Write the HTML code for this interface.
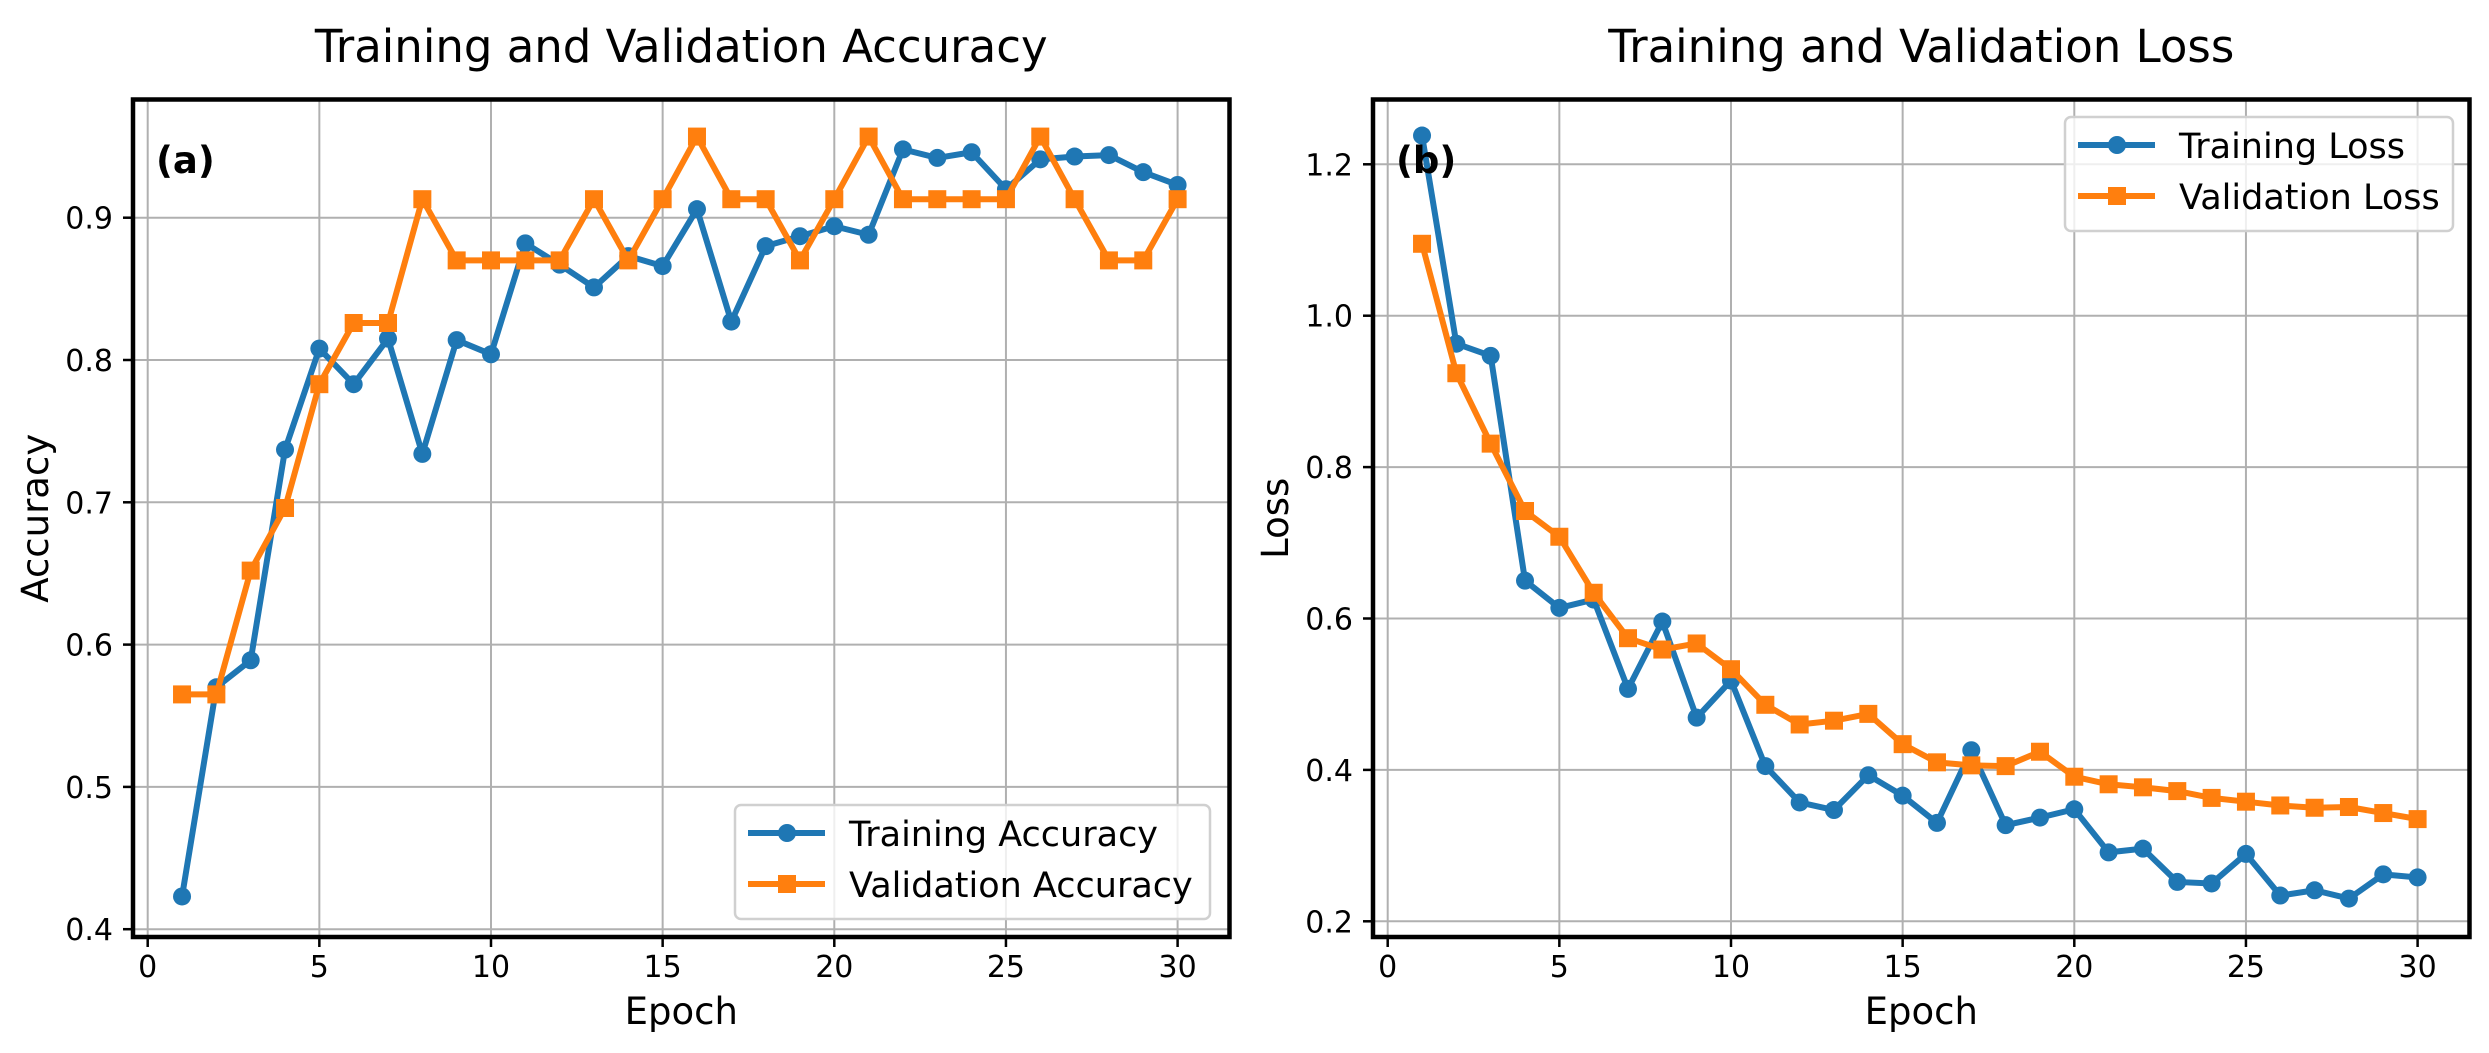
<!DOCTYPE html>
<html><head><meta charset="utf-8"><style>
html,body{margin:0;padding:0;background:#fff}
svg{display:block}
text{font-family:"DejaVu Sans","Liberation Sans",sans-serif}
</style></head><body>
<svg id="chart" width="2489" height="1053" viewBox="0 0 2489 1053" xmlns="http://www.w3.org/2000/svg"></svg>
<script>
const epochs=[1,2,3,4,5,6,7,8,9,10,11,12,13,14,15,16,17,18,19,20,21,22,23,24,25,26,27,28,29,30];
const trainAcc=[0.423,0.570,0.589,0.737,0.808,0.783,0.815,0.734,0.814,0.804,0.882,0.867,0.851,0.873,0.866,0.906,0.827,0.880,0.887,0.894,0.888,0.948,0.942,0.946,0.920,0.941,0.943,0.944,0.932,0.923];
const valAcc=[0.565,0.565,0.652,0.696,0.783,0.826,0.826,0.913,0.870,0.870,0.870,0.870,0.913,0.870,0.913,0.957,0.913,0.913,0.870,0.913,0.957,0.913,0.913,0.913,0.913,0.957,0.913,0.870,0.870,0.913];
const trainLoss=[1.238,0.963,0.947,0.650,0.614,0.625,0.507,0.596,0.469,0.518,0.405,0.357,0.347,0.393,0.366,0.330,0.426,0.327,0.337,0.348,0.291,0.296,0.252,0.250,0.289,0.234,0.241,0.230,0.262,0.258];
const valLoss=[1.095,0.924,0.831,0.742,0.708,0.634,0.574,0.559,0.567,0.533,0.486,0.460,0.465,0.474,0.434,0.410,0.406,0.405,0.424,0.391,0.381,0.377,0.372,0.363,0.358,0.353,0.350,0.351,0.343,0.335];
const xTicks=[0,5,10,15,20,25,30];
const accTicks=[0.4,0.5,0.6,0.7,0.8,0.9];
const lossTicks=[0.2,0.4,0.6,0.8,1.0,1.2];

const NS="http://www.w3.org/2000/svg";
const svg=document.getElementById('chart');
function el(tag,attrs,parent){const e=document.createElementNS(NS,tag);for(const k in attrs)e.setAttribute(k,attrs[k]);(parent||svg).appendChild(e);return e;}

function panel(cfg){
  const g=el('g',{});
  
  
  const L=cfg.ox+133,R=cfg.ox+1229.5,T=99.5,B=937;
  const x0=cfg.ox+147.7, xs=34.33;
  const X=v=>x0+v*xs;
  const Y=v=>cfg.yRef+(cfg.yRefVal-v)*cfg.ys;
  xTicks.forEach(t=>{const l=el('line',{x1:X(t),x2:X(t),y1:T,y2:B,stroke:'#b0b0b0','stroke-width':2},g);
    });
  cfg.yTicks.forEach(t=>{const l=el('line',{x1:L,x2:R,y1:Y(t),y2:Y(t),stroke:'#b0b0b0','stroke-width':2},g);
    });
  xTicks.forEach(t=>{
    el('line',{x1:X(t),x2:X(t),y1:B,y2:B+10,stroke:'#000','stroke-width':2.5},g);
    const tx=el('text',{x:X(t),y:977,'font-size':30,'text-anchor':'middle'},g);tx.textContent=t;
    
  });
  cfg.yTicks.forEach(t=>{
    el('line',{x1:L-10,x2:L,y1:Y(t),y2:Y(t),stroke:'#000','stroke-width':2.5},g);
    const tx=el('text',{x:L-20,y:Y(t)+11,'font-size':30,'text-anchor':'end'},g);tx.textContent=t.toFixed(1);
    
  });
  cfg.series.forEach(s=>{
    const sg=el('g',{},g);
    
    
    const pts=epochs.map((e,i)=>X(e)+','+Y(s.data[i])).join(' ');
    el('polyline',{points:pts,fill:'none',stroke:s.color,'stroke-width':6,'stroke-linejoin':'round'},sg);
    epochs.forEach((e,i)=>{
      let m;
      if(s.marker==='o') m=el('circle',{cx:X(e),cy:Y(s.data[i]),r:9,fill:s.color},sg);
      else m=el('rect',{x:X(e)-9,y:Y(s.data[i])-9,width:18,height:18,fill:s.color},sg);
      
      
    });
  });
  const fr=el('rect',{x:L,y:T,width:R-L,height:B-T,fill:'none',stroke:'#000','stroke-width':4.5},g);
  
  const ti=el('text',{x:(L+R)/2,y:62,'font-size':45,'text-anchor':'middle'},g);ti.textContent=cfg.title;
  
  const xl=el('text',{x:(L+R)/2,y:1024,'font-size':37,'text-anchor':'middle'},g);xl.textContent='Epoch';
  
  const cy=(T+B)/2;
  const yl=el('text',{x:cfg.ox+48,y:cy,'font-size':37,'text-anchor':'middle',transform:`rotate(-90 ${cfg.ox+48} ${cy})`},g);yl.textContent=cfg.ylabel;
  
  const pl=el('text',{x:cfg.ox+156,y:173,'font-size':37,'font-weight':'bold'},g);pl.textContent=cfg.panel;
  
  const lg=el('g',{},g);
  
  
  const lx=cfg.ox+cfg.leg[0], ly=cfg.leg[1], lw=cfg.leg[2], lh=114;
  el('rect',{x:lx,y:ly,width:lw,height:lh,rx:6,fill:'rgba(255,255,255,0.8)',stroke:'#d0d0d0','stroke-width':2.5},lg);
  cfg.series.forEach((s,i)=>{
    const ey=ly+28+i*51;
    const eg=el('g',{},lg);
    
    
    el('line',{x1:lx+13,x2:lx+90,y1:ey,y2:ey,stroke:s.color,'stroke-width':6},eg);
    if(s.marker==='o') el('circle',{cx:lx+52,cy:ey,r:9,fill:s.color},eg);
    else el('rect',{x:lx+43,y:ey-9,width:18,height:18,fill:s.color},eg);
    const t=el('text',{x:lx+114,y:ey+13,'font-size':35},eg);t.textContent=s.label;
  });
}

panel({name:'accuracy-panel',ox:0,title:'Training and Validation Accuracy',ylabel:'Accuracy',panel:'(a)',
  yRef:217.7,yRefVal:0.9,ys:1423,yTicks:accTicks,leg:[735,805,475],
  series:[{name:'training-accuracy-series',label:'Training Accuracy',data:trainAcc,color:'#1f77b4',marker:'o'},
          {name:'validation-accuracy-series',label:'Validation Accuracy',data:valAcc,color:'#ff7f0e',marker:'s'}]});
panel({name:'loss-panel',ox:1240,title:'Training and Validation Loss',ylabel:'Loss',panel:'(b)',
  yRef:164.3,yRefVal:1.2,ys:757,yTicks:lossTicks,leg:[825,117,388],
  series:[{name:'training-loss-series',label:'Training Loss',data:trainLoss,color:'#1f77b4',marker:'o'},
          {name:'validation-loss-series',label:'Validation Loss',data:valLoss,color:'#ff7f0e',marker:'s'}]});
</script>
</body></html>
